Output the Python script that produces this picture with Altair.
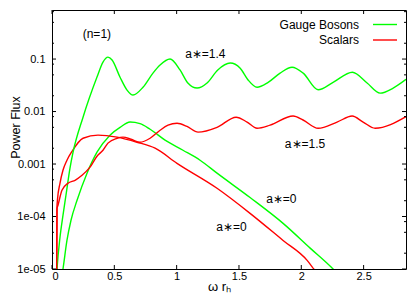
import altair as alt
import pandas as pd

W, H = 354, 259
FONT = "Liberation Sans"

# ---- data ----
series_names = ["Gauge Bosons a=0", "Scalars a=0", "Gauge Bosons a=1.4", "Scalars a=1.5"]
series_colors = ["#00ff00", "#ff0000", "#00ff00", "#ff0000"]

gb0_x = [0.080, 0.088, 0.120, 0.152, 0.201, 0.281, 0.361, 0.465, 0.546, 0.626, 0.706, 0.787,
         0.907, 1.051, 1.188, 1.324, 1.589, 1.854, 2.071, 2.255, 2.31]
gb0_y = [7.6e-6, 1.0e-5, 3.5e-5, 8.4e-5, 2.04e-4, 6.7e-4, 1.68e-3, 3.55e-3, 5.0e-3, 6.3e-3, 5.9e-3, 4.6e-3,
         2.85e-3, 1.83e-3, 1.18e-3, 6.7e-4, 2.3e-4, 7.4e-5, 2.5e-5, 1.0e-5, 7.3e-6]

s0_x = [0.037, 0.040, 0.044, 0.064, 0.088, 0.120, 0.161, 0.249, 0.369, 0.522, 0.682, 0.827,
        1.003, 1.324, 1.589, 1.854, 2.047, 2.10, 2.15]
s0_y = [5e-6, 1.5e-4, 2.1e-4, 4.3e-4, 7.6e-4, 1.18e-3, 1.75e-3, 3.1e-3, 3.55e-3, 3.25e-3, 2.6e-3, 2.0e-3,
        1.03e-3, 3.45e-4, 1.15e-4, 3.5e-5, 1.46e-5, 1.0e-5, 6.9e-6]

g14_x = [0.032, 0.040, 0.064, 0.088, 0.112, 0.144, 0.169, 0.249, 0.361, 0.409, 0.449, 0.482, 0.546,
         0.602, 0.650, 0.730, 0.810, 0.867, 0.947, 1.027, 1.090, 1.164, 1.244, 1.330, 1.430, 1.510,
         1.573, 1.645, 1.734, 1.830, 1.926, 2.015, 2.135, 2.255, 2.410, 2.528, 2.632, 2.737, 2.840]
g14_y = [5e-6, 1e-5, 4.0e-5, 1.05e-4, 2.54e-4, 8.3e-4, 1.68e-3, 7.8e-3, 0.0453, 0.0877, 0.109, 0.096, 0.045,
         0.0256, 0.0206, 0.029, 0.054, 0.077, 0.100, 0.062, 0.035, 0.028, 0.035, 0.062, 0.084, 0.067,
         0.040, 0.029, 0.036, 0.054, 0.070, 0.054, 0.026, 0.036, 0.056, 0.035, 0.0224, 0.028, 0.041]

s15_x = [0.037, 0.040, 0.048, 0.080, 0.128, 0.185, 0.241, 0.305, 0.361, 0.409, 0.449, 0.522, 0.570,
         0.634, 0.706, 0.787, 0.867, 0.931, 1.003, 1.083, 1.172, 1.324, 1.477, 1.565, 1.645, 1.750,
         1.934, 2.014, 2.135, 2.287, 2.408, 2.496, 2.592, 2.840]
s15_y = [5e-6, 1.4e-4, 1.64e-4, 3.16e-4, 4.3e-4, 4.9e-4, 6.1e-4, 8.7e-4, 1.41e-3, 1.83e-3, 2.5e-3, 3.1e-3, 3.25e-3,
         2.97e-3, 2.6e-3, 3.1e-3, 4.4e-3, 5.5e-3, 6.0e-3, 5.2e-3, 4.05e-3, 5.0e-3, 7.8e-3, 6.3e-3, 4.8e-3, 5.5e-3,
         8.2e-3, 6.9e-3, 4.8e-3, 6.3e-3, 8.2e-3, 6.3e-3, 4.8e-3, 8.0e-3]

x_ticks = [0, 0.5, 1, 1.5, 2, 2.5]
y_major = [1e-5, 1e-4, 1e-3, 1e-2, 1e-1]
y_minor = [2e-5, 5e-5, 8e-5, 2e-4, 5e-4, 8e-4, 2e-3, 5e-3, 8e-3, 0.02, 0.05, 0.08, 0.2, 0.5, 0.8]

ann_text = ["(n=1)", "a∗=1.4", "a∗=1.5", "a∗=0", "a∗=0"]
ann_x = [0.36, 1.23, 2.03, 1.84, 1.44]
ann_y = [0.30, 0.124, 2.4e-3, 2.13e-4, 6.2e-5]

legend_labels = ["Gauge Bosons", "Scalars"]
legend_colors = ["#00ff00", "#ff0000"]

# ---- build tables ----
rows = []
for name, xs, ys in zip(series_names, [gb0_x, s0_x, g14_x, s15_x], [gb0_y, s0_y, g14_y, s15_y]):
    for i, (a, b) in enumerate(zip(xs, ys)):
        rows.append({"series": name, "x": a, "y": b, "i": i})
df = pd.DataFrame(rows)

xscale = alt.Scale(domain=[0, 2.84], nice=False, zero=False)
yscale = alt.Scale(type="log", domain=[1e-5, 0.86], nice=False)

x_axis = alt.Axis(values=x_ticks, format="~g", ticks=False, domain=False, grid=False,
                  labelPadding=1.5, labelFontSize=11, labelFont=FONT, labelColor="black",
                  title="ω rₕ", titleFont=FONT, titleFontSize=13, titleFontWeight="normal",
                  titleColor="black", titleX=167, titleY=21, titleBaseline="alphabetic",
                  titleAlign="center")
y_axis = alt.Axis(values=y_major,
                  labelExpr="datum.value < 0.00005 ? '1e-05' : (datum.value < 0.0005 ? '1e-04' : format(datum.value, '~g'))",
                  ticks=False, domain=False, grid=False, labelPadding=7, labelFontSize=11,
                  labelFont=FONT, labelColor="black",
                  title="Power Flux", titleFont=FONT, titleFontSize=12.5, titleFontWeight="normal",
                  titleColor="black", titleX=-32.5, titleY=117, titleAngle=270,
                  titleBaseline="alphabetic", titleAlign="center")

X = alt.X("x:Q", scale=xscale, axis=x_axis)
Y = alt.Y("y:Q", scale=yscale, axis=y_axis)

lines = alt.Chart(df).mark_line(clip=True, strokeWidth=1.4, interpolate="monotone").encode(
    x=X, y=Y,
    color=alt.Color("series:N", scale=alt.Scale(domain=series_names, range=series_colors), legend=None),
    detail="series:N",
    order="i:Q",
)

ymaj = pd.DataFrame({"y": y_major})
ymin = pd.DataFrame({"y": y_minor})
xt = pd.DataFrame({"x": x_ticks})

def yticks(data, length, right):
    x0, x1 = (W - length, W) if right else (0, length)
    return alt.Chart(data).mark_rule(color="black", strokeWidth=1).encode(
        y=Y, x=alt.value(x0), x2=alt.value(x1))

def xticks(data, length, top):
    y0, y1 = (0, length) if top else (H - length, H)
    return alt.Chart(data).mark_rule(color="black", strokeWidth=1).encode(
        x=X, y=alt.value(y0), y2=alt.value(y1))

ticks = [yticks(ymaj, 4, False), yticks(ymaj, 4, True), yticks(ymin, 2, False), yticks(ymin, 2, True),
         xticks(xt, 4, False), xticks(xt, 4, True)]

ann = alt.Chart(pd.DataFrame({"x": ann_x, "y": ann_y, "t": ann_text})).mark_text(
    font=FONT, fontSize=12, color="black", align="center", baseline="middle").encode(
    x=X, y=Y, text="t:N")

leg = []
for k, (lab, col) in enumerate(zip(legend_labels, legend_colors)):
    yy = 14.5 + 15.5 * k
    d = pd.DataFrame({"t": [lab]})
    leg.append(alt.Chart(d).mark_text(font=FONT, fontSize=12, color="black", align="right",
                                      baseline="middle").encode(
        text="t:N", x=alt.value(307), y=alt.value(yy)))
    leg.append(alt.Chart(d).mark_rule(color=col, strokeWidth=1.4).encode(
        x=alt.value(321), x2=alt.value(345), y=alt.value(yy)))

chart = alt.layer(lines, *ticks, ann, *leg).properties(
    width=W, height=H,
    autosize=alt.AutoSizeParams(type="none"),
    padding={"left": 44, "top": 2, "right": 6, "bottom": 28},
    background="white",
).configure_view(stroke="black", strokeWidth=1)

chart.save("out.html", embed_options={"renderer": "svg", "actions": False})
